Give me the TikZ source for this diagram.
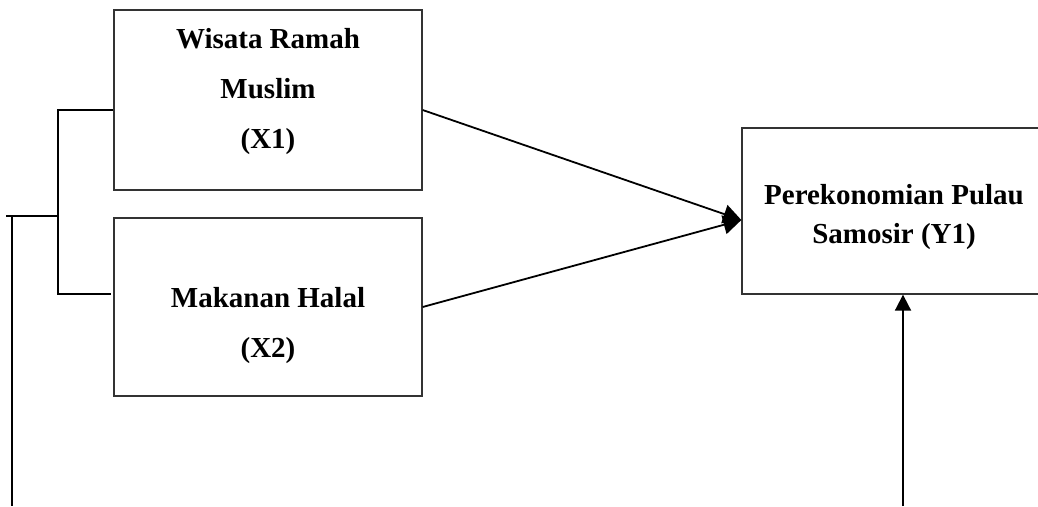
\documentclass[tikz,border=0pt]{standalone}
\usepackage{fontspec}
\setmainfont{Liberation Serif}
\usetikzlibrary{arrows.meta}

\tikzset{
  varbox/.style={draw=black!80, line width=1.3pt, rectangle, inner sep=0pt},
  varlabel/.style={font=\bfseries\fontsize{29}{50}\selectfont, align=center, inner sep=0pt},
  ylabel/.style={font=\bfseries\fontsize{29}{39}\selectfont, align=center, inner sep=0pt},
  link/.style={line width=1.8pt, black},
  tip/.style={-{Triangle[length=18pt,width=19pt]}},
  smalltip/.style={-{Triangle[length=16pt,width=16pt]}},
}

\begin{document}
\begin{tikzpicture}[x=1pt,y=-1pt]
		\useasboundingbox (0,0) rectangle (1038,506);

		% variable boxes
		\node [varbox, minimum width=308pt, minimum height=180pt] (x1) at (268,100) {};
		\node [varbox, minimum width=308pt, minimum height=178pt] (x2) at (268,307) {};
		\node [varbox, minimum width=303pt, minimum height=166pt] (y1) at (893.5,211) {};

		\node [varlabel] (x1txt) at (268,92) {Wisata Ramah\\Muslim\\(X1)};
		\node [varlabel] (x2txt) at (268,326) {Makanan Halal\\(X2)};
		\node [ylabel] (y1txt) at (894,217) {Perekonomian Pulau\\Samosir (Y1)};

		% free ends
		\coordinate (brtop) at (58,110);
		\coordinate (brmid) at (58,216);
		\coordinate (brbot) at (58,294);
		\coordinate (brend) at (111,294);
		\coordinate (feed) at (6,216);
		\coordinate (lefttop) at (12,216);
		\coordinate (leftbot) at (12,506);
		\coordinate (base) at (903,506);

		% bracket on the left
		\draw [link] ([yshift=-10pt]x1.west) -- (brtop) -- (brbot) -- (brend);
		\draw [link] (feed) -- (brmid);
		\draw [link] (lefttop) -- (leftbot);

		% arrows into Y1
		\draw [link, tip] ([yshift=-10pt]x1.east) -- ([yshift=-9pt]y1.west);
		\draw [link, tip] (x2.east) -- ([yshift=-9pt]y1.west);
		\draw [link, smalltip] (base) -- (base |- y1.south);

		\end{tikzpicture}
\end{document}
